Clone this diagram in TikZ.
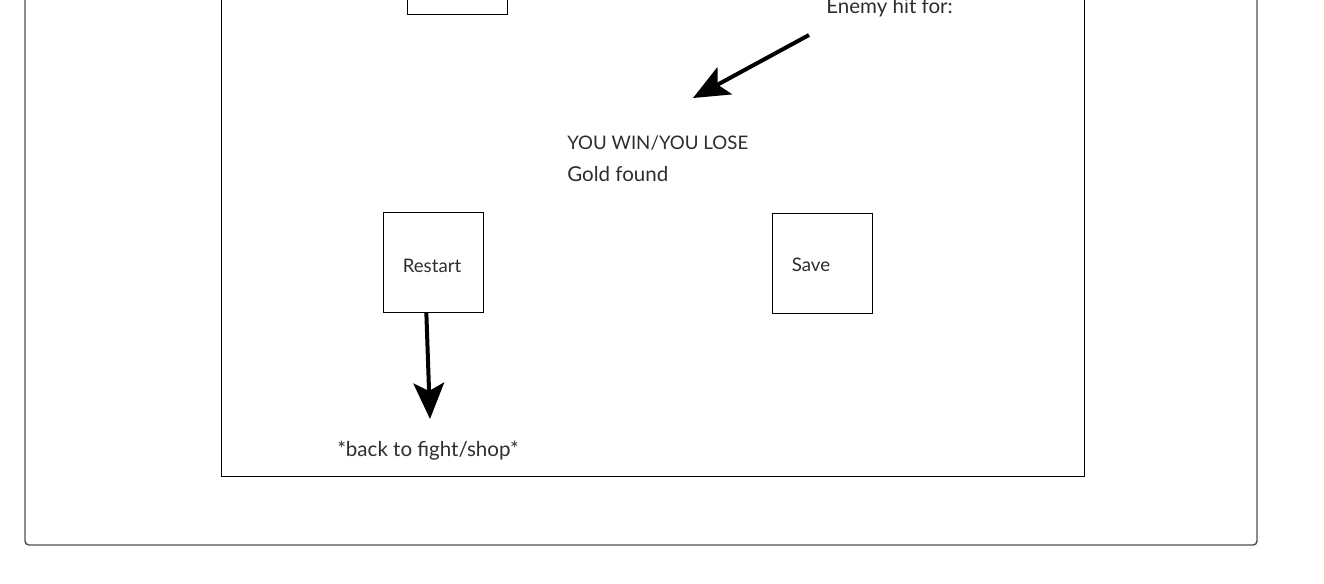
\documentclass[tikz,border=0pt]{standalone}
\usepackage{fontspec}
\setmainfont{Lato}
\usetikzlibrary{arrows.meta}
\begin{document}
\begin{tikzpicture}[x=0.75pt, y=-0.75pt,
		txt/.style={text=textgray, inner sep=0pt, font=\fontsize{15.4}{18}\selectfont},
		capstxt/.style={txt, font=\fontsize{14}{17}\selectfont},
		btntxt/.style={txt, font=\fontsize{14}{17}\selectfont},
		btn/.style={draw=black, line width=0.75pt, minimum width=75pt, minimum height=75pt, inner sep=0pt},
		fatarrow/.style={line width=3pt, -{Stealth[length=27pt, width=23pt, inset=6pt]}}]
	\definecolor{textgray}{RGB}{45, 45, 45}
	\definecolor{framegray}{RGB}{80, 80, 80}
	\useasboundingbox (0,0) rectangle (1324,583);
	\clip (0,0) rectangle (1324,583);
	% frames
	\draw[framegray, line width=1.1pt, rounded corners=3pt] (25,-20) rectangle (1257,545);
	\draw[black, line width=0.75pt] (221,-20) rectangle (1084,476);
	\draw[black, line width=0.75pt] (407,-20) rectangle (507,14);
	% texts
	\node[txt, anchor=base west] (hit) at (826,13) {Enemy hit for:};
	\node[capstxt, anchor=base west] (result) at (567,149) {YOU WIN/YOU LOSE};
	\node[txt, anchor=base west] (gold) at (567,181) {Gold found};
	\node[txt, anchor=base west] (back) at (337,456) {*back to fight/shop*};
	% buttons
	\node[btn] (restart) at (433,262) {};
	\node[btn] (save) at (822,263) {};
	\node[btntxt, anchor=base] (restartlbl) at (432,272) {Restart};
	\node[btntxt, anchor=base] (savelbl) at (811,271) {Save};
	% arrows
	\coordinate (hittail) at (809,35);
	\coordinate (hittip) at (693,98);
	\coordinate (backtip) at (430,419);
	\draw[fatarrow] (hittail) -- (hittip);
	\draw[fatarrow] ([xshift=-5]restart.south) -- (backtip);
\end{tikzpicture}
\end{document}
